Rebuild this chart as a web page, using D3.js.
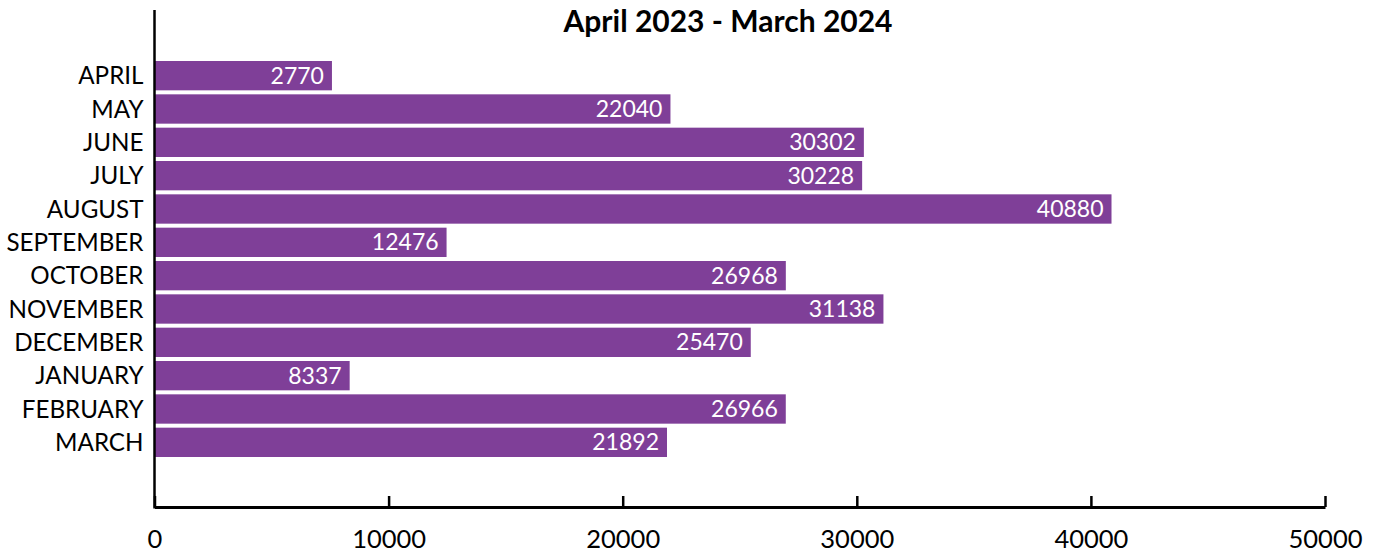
<!DOCTYPE html>
<html>
<head>
<meta charset="utf-8">
<script src="https://cdn.jsdelivr.net/npm/d3@7"></script>
<style>
  body { margin: 0; background: #fff; }
  text { font-family: Lato, "Open Sans", sans-serif; }
</style>
</head>
<body>
<div id="chart"></div>
<script>
const months = ['APRIL', 'MAY', 'JUNE', 'JULY', 'AUGUST', 'SEPTEMBER', 'OCTOBER',
  'NOVEMBER', 'DECEMBER', 'JANUARY', 'FEBRUARY', 'MARCH']
// bar lengths as drawn (the April bar is longer than its label says)
const barValues = [7580, 22040, 30302, 30228, 40880, 12476, 26968, 31138, 25470, 8337, 26966, 21892]
const labelValues = [2770, 22040, 30302, 30228, 40880, 12476, 26968, 31138, 25470, 8337, 26966, 21892]
const xTicks = [0, 10000, 20000, 30000, 40000, 50000]
const title = 'April 2023 - March 2024'

const width = 1384
const height = 555
const margin = { top: 10, left: 154.5, right: 59, bottom: 48 }

const svg = d3
  .select('#chart')
  .append('svg')
  .attr('width', width)
  .attr('height', height)

const xScale = d3.scaleLinear().domain([0, 50000]).range([margin.left, width - margin.right])
const yScale = d3.scaleBand().domain(months).range([59, 459]).paddingInner(0.12).paddingOuter(0.06)

const data = months.map((m, i) => ({ month: m, value: barValues[i], label: labelValues[i] }))

svg
  .selectAll('.bar')
  .data(data)
  .enter()
  .append('rect')
  .attr('class', 'bar')
  .attr('x', xScale(0))
  .attr('y', d => yScale(d.month))
  .attr('width', d => xScale(d.value) - xScale(0))
  .attr('height', yScale.bandwidth())
  .attr('fill', '#7f3f98')

svg
  .selectAll('.value')
  .data(data)
  .enter()
  .append('text')
  .attr('class', 'value')
  .text(d => d.label)
  .attr('x', d => xScale(d.value) - 8)
  .attr('y', d => yScale(d.month) + yScale.bandwidth() / 2)
  .attr('dy', '0.35em')
  .attr('text-anchor', 'end')
  .attr('fill', 'white')
  .style('font-size', '23px')

svg
  .selectAll('.month')
  .data(data)
  .enter()
  .append('text')
  .attr('class', 'month')
  .text(d => d.month)
  .attr('x', margin.left - 11)
  .attr('y', d => yScale(d.month) + yScale.bandwidth() / 2)
  .attr('dy', '0.36em')
  .attr('text-anchor', 'end')
  .attr('fill', '#000')
  .style('font-size', '24.2px')

// x axis: ticks point up into the chart, labels well below
const axisY = height - margin.bottom
const xAxis = d3
  .axisBottom(xScale)
  .tickValues(xTicks)
  .tickFormat(d3.format('d'))
  .tickSizeInner(-11)
  .tickSizeOuter(0)
  .tickPadding(23)

const gx = svg
  .append('g')
  .attr('transform', `translate(0,${axisY})`)
  .call(xAxis)
gx.select('.domain').attr('stroke', '#000').attr('stroke-width', 3)
gx.selectAll('.tick line').attr('stroke', '#000').attr('stroke-width', 2.5)
gx.selectAll('.tick text')
  .attr('fill', '#000')
  .style('font-size', '25.5px')
  .style('font-family', 'Lato, sans-serif')

// y axis line
svg
  .append('line')
  .attr('x1', margin.left)
  .attr('x2', margin.left)
  .attr('y1', margin.top)
  .attr('y2', axisY + 1.5)
  .attr('stroke', '#000')
  .attr('stroke-width', 2.5)

svg
  .append('text')
  .text(title)
  .attr('x', 728)
  .attr('y', 32)
  .attr('text-anchor', 'middle')
  .attr('fill', '#000')
  .style('font-weight', 'bold')
  .style('font-size', '30px')
</script>
</body>
</html>
